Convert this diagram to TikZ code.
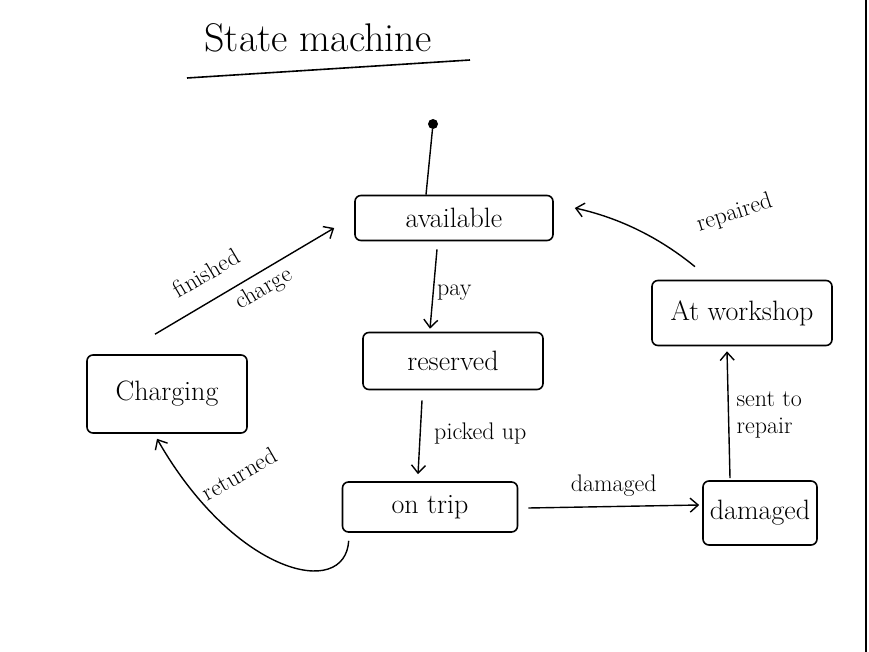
\documentclass[tikz,border=0pt]{standalone}
\usepackage{fontspec}
\usetikzlibrary{arrows.meta}
\begin{document}
\begin{tikzpicture}[y=-1pt,x=1pt,>={Straight Barb[length=8pt,width=14pt]}]
        \tikzset{
            statebox/.style={rectangle,rounded corners=6pt,draw=black,line width=1.6pt,font=\fontsize{28}{32}\selectfont},
            trans/.style={->,line width=1.4pt},
            translabel/.style={font=\fontsize{24}{27}\selectfont}
        }
        \useasboundingbox (0,0) rectangle (869,652);
        \draw[line width=1.5pt] (866,0) -- (866,652);

        \node[font=\fontsize{40}{46}\selectfont] (title) at (318,38) {State machine};
        \draw[line width=1.6pt] (187,78) -- (470,60);

        \node[circle,fill=black,inner sep=0pt,minimum size=10pt] (init) at (433,124) {};

        \node[statebox,minimum width=198pt,minimum height=45pt] (avail) at (454,218) {available};
        \node[statebox,minimum width=180pt,minimum height=57pt] (reserved) at (453,361) {reserved};
        \node[statebox,minimum width=175pt,minimum height=50pt] (ontrip) at (430,507) {on trip};
        \node[statebox,minimum width=160pt,minimum height=78pt] (charging) at (167,394) {Charging};
        \node[statebox,minimum width=114pt,minimum height=64pt,inner xsep=4pt] (damaged) at (760,513) {damaged};
        \node[statebox,minimum width=180pt,minimum height=65pt,inner xsep=4pt] (workshop) at (742,313) {At workshop};

        \draw[line width=1.4pt] (init) -- ([shift={(-28,0)}]avail.north);

        \draw[trans] ([shift={(-12,-20)}]charging.north) -- node[translabel,pos=0.36,above=14pt,sloped] {finished} node[translabel,pos=0.56,below=2pt,sloped] {charge} ([shift={(-20,10)}]avail.west);
        \draw[trans] ([shift={(-17,8)}]avail.south) -- node[translabel,right,pos=0.55] {pay} ([shift={(-23,-3)}]reserved.north);
        \draw[trans] ([shift={(-31,10)}]reserved.south) -- node[translabel,right=10pt,pos=0.45] {picked up} ([shift={(-12,-7)}]ontrip.north);
        \draw[trans] ([shift={(10,1)}]ontrip.east) -- node[translabel,above=6pt] {damaged} ([shift={(-3,-8)}]damaged.west);
        \draw[trans] ([shift={(-30,-2)}]damaged.north) -- node[translabel,right=4pt,align=left] {sent to\\repair} ([shift={(-15,5)}]workshop.south);
        \draw[trans] ([shift={(-47,-13)}]workshop.north) .. controls (660,238) and (620,218) .. ([shift={(21,-10)}]avail.east)
            node[translabel,pos=0.12,above right=16pt,rotate=18] {repaired};
        \draw[trans] ([shift={(7,8)}]ontrip.south west) .. controls (345,600) and (235,575) .. ([shift={(-10,5)}]charging.south)
            node[translabel,pos=0.8,above right,rotate=30] {returned};
\end{tikzpicture}
\end{document}
